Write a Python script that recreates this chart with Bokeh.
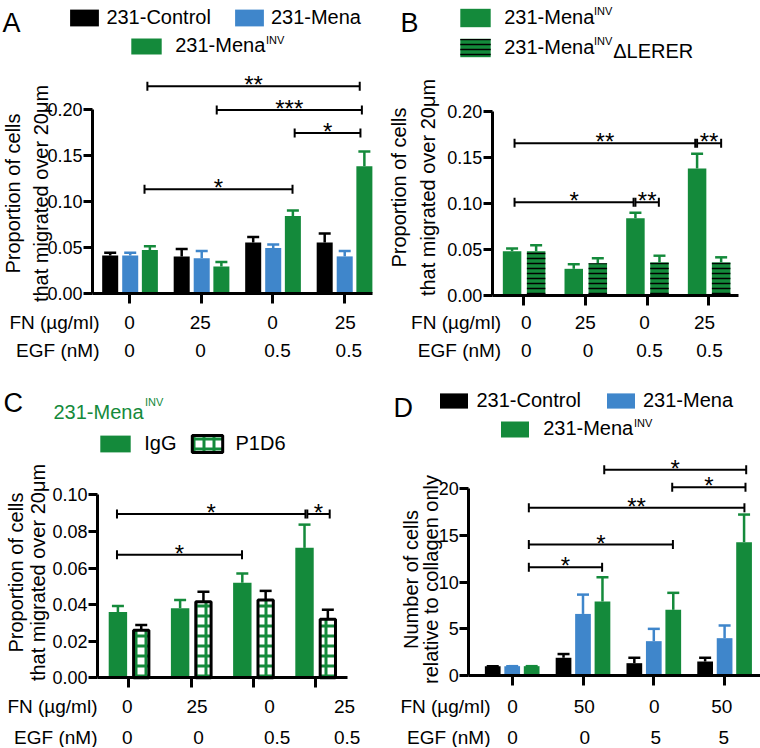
import numpy as np
from math import pi
from bokeh.plotting import figure
from bokeh.layouts import column, row
from bokeh.models import (ColumnDataSource, Range1d, FixedTicker, PrintfTickFormatter,
                          Whisker, TeeHead, LabelSet, Label, Legend, LegendItem)
from bokeh.core.properties import value
from bokeh.embed import file_html
from bokeh.resources import INLINE

FONT = "Liberation Sans"
BLACK, BLUE, GREEN = "#000000", "#3f86cb", "#148a3b"

# ====================== data ======================
# Panel A
a_fn = ["0", "25", "0", "25"]
a_egf = ["0", "0", "0.5", "0.5"]
a_control = [0.041, 0.040, 0.055, 0.055]
a_control_err = [0.003, 0.008, 0.006, 0.010]
a_mena = [0.041, 0.038, 0.049, 0.040]
a_mena_err = [0.003, 0.008, 0.004, 0.006]
a_inv = [0.047, 0.029, 0.084, 0.138]
a_inv_err = [0.004, 0.005, 0.006, 0.016]
a_sig_from = [0.25, 1.22, 2.31, 0.21]
a_sig_to = [3.22, 3.25, 3.23, 2.28]
a_sig_y = [0.225, 0.199, 0.174, 0.113]
a_sig_text = ["**", "***", "*", "*"]

# Panel B
b_fn = ["0", "25", "0", "25"]
b_egf = ["0", "0", "0.5", "0.5"]
b_inv = [0.048, 0.029, 0.084, 0.138]
b_inv_err = [0.003, 0.005, 0.006, 0.016]
b_lerer = [0.048, 0.035, 0.036, 0.036]
b_lerer_err = [0.0065, 0.0055, 0.0073, 0.0055]
b_sig_from = [-0.15, 2.81, -0.15, 1.81]
b_sig_to = [2.78, 3.20, 1.78, 2.19]
b_sig_y = [0.1655, 0.1655, 0.1014, 0.1014]
b_sig_text = ["**", "**", "*", "**"]

# Panel C
c_fn = ["0", "25", "0", "25"]
c_egf = ["0", "0", "0.5", "0.5"]
c_igg = [0.036, 0.038, 0.052, 0.071]
c_igg_err = [0.0033, 0.0045, 0.005, 0.0127]
c_p1d6 = [0.026, 0.0415, 0.0425, 0.032]
c_p1d6_err = [0.0028, 0.0055, 0.005, 0.0052]
c_sig_from = [-0.19, 2.87, -0.19]
c_sig_to = [2.84, 3.23, 1.82]
c_sig_y = [0.0895, 0.0895, 0.0672]
c_sig_text = ["*", "*", "*"]

# Panel D
d_fn = ["0", "50", "0", "50"]
d_egf = ["0", "0", "5", "5"]
d_control = [1.0, 1.9, 1.32, 1.5]
d_control_err = [0.0, 0.4, 0.58, 0.4]
d_mena = [1.0, 6.6, 3.68, 4.0]
d_mena_err = [0.0, 2.07, 1.32, 1.36]
d_inv = [1.0, 7.93, 7.04, 14.29]
d_inv_err = [0.0, 2.6, 1.82, 2.96]
d_sig_from = [1.30, 2.26, 0.235, 0.235, 0.235]
d_sig_to = [3.305, 3.295, 3.28, 2.27, 1.27]
d_sig_y = [22.05, 20.18, 17.97, 14.04, 11.6]
d_sig_text = ["*", "*", "**", "*", "*"]


# ====================== layout helpers ======================
class Geo:
    """Page-pixel geometry of one panel (used only to place annotations)."""
    def __init__(self, ox, oy, w, h, axis_x, axis_right, axis_y, x0, xs, ys):
        self.ox, self.oy, self.w, self.h = ox, oy, w, h
        self.axis_x, self.axis_right, self.axis_y = axis_x, axis_right, axis_y
        self.x0, self.xs, self.ys = x0, xs, ys

    def X(self, px):
        return (px - self.x0) / self.xs

    def Y(self, py):
        return (self.axis_y - py) / self.ys


def make_fig(g, yticks, yfmt):
    p = figure(width=g.w, height=g.h,
               x_range=Range1d(g.X(g.ox), g.X(g.ox + g.w)),
               y_range=Range1d(g.Y(g.oy + g.h), g.Y(g.oy)),
               output_backend="svg", toolbar_location=None, title=None,
               min_border=0, min_border_left=0, min_border_right=0,
               min_border_top=0, min_border_bottom=0)
    p.outline_line_color = None
    p.xgrid.visible = False
    p.ygrid.visible = False
    p.background_fill_color = "white"
    p.border_fill_color = "white"
    ya = p.yaxis[0]
    ya.fixed_location = g.X(g.axis_x)
    ya.ticker = FixedTicker(ticks=yticks)
    ya.bounds = (yticks[0], yticks[-1])
    ya.formatter = PrintfTickFormatter(format=yfmt)
    xa = p.xaxis[0]
    xa.fixed_location = 0
    xa.ticker = FixedTicker(ticks=[0, 1, 2, 3])
    xa.bounds = (g.X(g.axis_x), g.X(g.axis_right))
    xa.major_label_text_color = None
    for ax in (ya, xa):
        ax.axis_line_width = 3
        ax.axis_line_color = "black"
        ax.major_tick_line_width = 3
        ax.major_tick_line_color = "black"
        ax.major_tick_in = 0
        ax.minor_tick_line_color = None
        ax.major_label_text_font = FONT
        ax.major_label_text_font_size = "18px"
    ya.major_tick_out = 9
    ya.major_label_standoff = 1
    ya.major_label_text_color = "black"
    xa.major_tick_out = 10
    return p


def bars(p, vals, errs, offset, width, color, wcolor=None, **kw):
    xs = np.arange(len(vals)) + offset
    vals = np.array(vals, dtype=float)
    src = ColumnDataSource(dict(x=xs, top=vals, hi=vals + np.array(errs, dtype=float)))
    if "line_color" not in kw:
        kw["line_color"] = None
    r = p.vbar(x="x", top="top", width=width, source=src, fill_color=color, **kw)
    wc = wcolor or color
    p.add_layout(Whisker(source=src, base="x", lower="top", upper="hi", dimension="height",
                         line_color=wc, line_width=2.5, lower_head=None,
                         upper_head=TeeHead(size=12, line_color=wc, line_width=2.5)))
    return r


def legend(p, g, entries, sx, sy, sw, sh, tx, spacing=0):
    """Single-row legend; swatch drawn at page (sx, sy) size (sw, sh), text starting at tx.
    Returns the (approximate) page y of the label baseline."""
    gw, gh = sw / 0.8, sh / 0.8
    bl = sx - 0.1 * gw
    bt = sy - 0.1 * gh
    standoff = tx - (bl + gw)
    total_h = max(gh, 22.3)
    loc = (bl - g.ox, (g.oy + g.h) - (bt + total_h))
    lg = Legend(items=[LegendItem(label=l, renderers=[r]) for l, r in entries],
                location=loc, orientation="horizontal",
                glyph_width=int(round(gw)), glyph_height=int(round(gh)),
                label_standoff=int(round(standoff)), spacing=int(round(spacing)),
                padding=0, margin=0, border_line_color=None, background_fill_alpha=0,
                label_text_font=FONT, label_text_font_size="20px", label_text_color="black",
                label_height=int(round(gh)))
    p.add_layout(lg)
    return bt + total_h / 2 + 3.5


def text(p, g, t, px, py, size="20px", color="black", align="left", baseline="alphabetic", angle=0):
    p.add_layout(Label(x=g.X(px), y=g.Y(py), text=t, text_font=FONT, text_font_size=size,
                       text_color=color, text_align=align, text_baseline=baseline, angle=angle))


def sig(p, g, x0s, x1s, ys, texts):
    src = ColumnDataSource(dict(y=ys, x0=x0s, x1=x1s))
    p.add_layout(Whisker(source=src, base="y", lower="x0", upper="x1", dimension="width",
                         line_width=2, line_color="black", level="overlay",
                         lower_head=TeeHead(size=9, line_width=2, line_color="black"),
                         upper_head=TeeHead(size=9, line_width=2, line_color="black")))
    src2 = ColumnDataSource(dict(x=(np.array(x0s) + np.array(x1s)) / 2,
                                 y=np.array(ys) - 7.0 / g.ys, t=texts))
    p.add_layout(LabelSet(x="x", y="y", text="t", source=src2, text_align="center",
                          text_baseline="alphabetic", text_font=value(FONT),
                          text_font_size="24px", text_color="black"))


def rows(p, g, fn, egf, fn_px, egf_px, fn_py, egf_py, title_px):
    for vals, pxs, py, title in ((fn, fn_px, fn_py, "FN (µg/ml)"), (egf, egf_px, egf_py, "EGF (nM)")):
        src = ColumnDataSource(dict(x=[g.X(v) for v in pxs], y=[g.Y(py)] * len(vals), t=vals))
        p.add_layout(LabelSet(x="x", y="y", text="t", source=src, text_align="center",
                              text_baseline="middle", text_font=value(FONT),
                              text_font_size="19px", text_color="black"))
        text(p, g, title, title_px, py, size="19px", align="right", baseline="middle")


def ylabel(p, g, lines, bxs, cy):
    for t, bx in zip(lines, bxs):
        text(p, g, t, bx, cy, size="20px", align="center", baseline="alphabetic", angle=pi / 2)


def sup(p, g, px, main_baseline, color="black"):
    text(p, g, "INV", px, main_baseline - 10, size="11px", color=color)


# ====================== Panel A ======================
gA = Geo(0, 0, 380, 370, 92, 372, 292.7, 129.0, 71.5, 920.0)
pA = make_fig(gA, [0, 0.05, 0.10, 0.15, 0.20], "%.2f")
rA1 = bars(pA, a_control, a_control_err, -0.27, 0.224, BLACK)
rA2 = bars(pA, a_mena, a_mena_err, 0.01, 0.224, BLUE)
rA3 = bars(pA, a_inv, a_inv_err, 0.285, 0.224, GREEN)
legend(pA, gA, [("231-Control", rA1), ("231-Mena", rA2)], 70, 8.3, 29, 16.7, 107, spacing=20)
bA = legend(pA, gA, [("231-Mena", rA3)], 131, 37, 30, 16.3, 175)
sup(pA, gA, 265.5, bA)
sig(pA, gA, a_sig_from, a_sig_to, a_sig_y, a_sig_text)
rows(pA, gA, a_fn, a_egf, [129, 199.8, 272, 344.7], [129, 200, 277, 348.3], 322, 350, 99)
ylabel(pA, gA, ["Proportion of cells", "that migrated over 20μm"], [12, 40], 193)
text(pA, gA, "A", 2, 22, size="27px")

# ====================== Panel B ======================
gB = Geo(380, 0, 380, 370, 491.7, 738, 295, 523.3, 61.67, 920.0)
pB = make_fig(gB, [0, 0.05, 0.10, 0.15, 0.20], "%.2f")
rB1 = bars(pB, b_inv, b_inv_err, -0.19, 0.3, GREEN)
rB2 = bars(pB, b_lerer, b_lerer_err, 0.2, 0.3, GREEN, hatch_pattern="horizontal_line",
           hatch_color="black", hatch_scale=5, hatch_weight=1.5)
bB1 = legend(pB, gB, [("231-Mena", rB1)], 460, 8.2, 30, 18.3, 503.3)
bB2 = legend(pB, gB, [("231-Mena", rB2)], 460, 38.2, 30, 18.3, 503.3)
sup(pB, gB, 593.5, bB1)
sup(pB, gB, 593.5, bB2)
text(pB, gB, "ΔLERER", 612.7, bB2, size="20px")
sig(pB, gB, b_sig_from, b_sig_to, b_sig_y, b_sig_text)
rows(pB, gB, b_fn, b_egf, [525.8, 584.7, 644, 704], [525.8, 587.5, 649, 709], 321.7, 350, 500.7)
ylabel(pB, gB, ["Proportion of cells", "that migrated over 20μm"], [398.5, 427], 187)
text(pB, gB, "B", 400, 22, size="27px")

# ====================== Panel C ======================
gC = Geo(0, 370, 380, 377, 97, 346.7, 677.3, 128.3, 62.2, 1830.0)
pC = make_fig(gC, [0, 0.02, 0.04, 0.06, 0.08, 0.10], "%.2f")
rC1 = bars(pC, c_igg, c_igg_err, -0.175, 0.296, GREEN)
rC2 = bars(pC, c_p1d6, c_p1d6_err, 0.2, 0.246, "white", wcolor=BLACK,
           line_color="black", line_width=3,
           hatch_pattern="cross", hatch_color=GREEN, hatch_scale=10, hatch_weight=3)
legend(pC, gC, [("IgG", rC1), ("P1D6", rC2)], 100, 435, 30, 16.7, 143.3, spacing=11)
text(pC, gC, "231-Mena", 53, 411.7, size="20px", color=GREEN)
sup(pC, gC, 144.5, 411.7, color=GREEN)
sig(pC, gC, c_sig_from, c_sig_to, c_sig_y, c_sig_text)
rows(pC, gC, c_fn, c_egf, [126.7, 196.5, 269, 344], [126.7, 198, 276.7, 346.7], 705.7, 736.7, 97)
ylabel(pC, gC, ["Proportion of cells", "that migrated over 20μm"], [15, 37], 572)
text(pC, gC, "C", 3, 402, size="27px")

# ====================== Panel D ======================
gD = Geo(380, 370, 380, 377, 468.3, 760, 675, 511.7, 70.8, 9.33)
pD = make_fig(gD, [0, 5, 10, 15, 20], "%d")
rD1 = bars(pD, d_control, d_control_err, -0.275, 0.222, BLACK)
rD2 = bars(pD, d_mena, d_mena_err, 0.0, 0.222, BLUE)
rD3 = bars(pD, d_inv, d_inv_err, 0.275, 0.222, GREEN)
legend(pD, gD, [("231-Control", rD1), ("231-Mena", rD2)], 440, 391.7, 28.3, 15, 476.7, spacing=22)
bD = legend(pD, gD, [("231-Mena", rD3)], 500.7, 420, 28.3, 15.7, 543.3)
sup(pD, gD, 633.5, bD)
sig(pD, gD, d_sig_from, d_sig_to, d_sig_y, d_sig_text)
rows(pD, gD, d_fn, d_egf, [512, 583.8, 653.8, 721.3], [512, 584.2, 655.3, 723.3], 705.7, 736.7, 490)
ylabel(pD, gD, ["Number of cells", "relative to collagen only"], [410, 430], 579)
text(pD, gD, "D", 393, 407, size="27px")

layout = column(row(pA, pB), row(pC, pD))
open("out.html", "w").write(file_html(layout, INLINE))
